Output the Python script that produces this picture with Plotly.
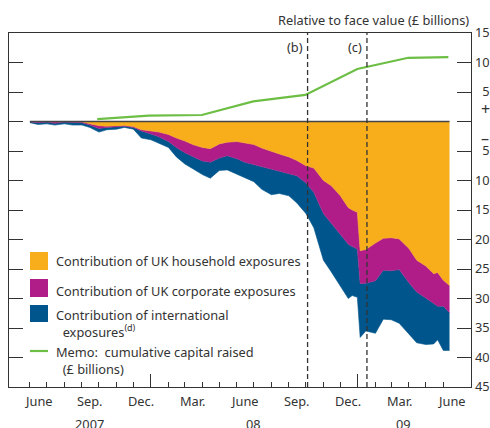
import pandas as pd
import plotly.graph_objects as go

# stacked contributions (GBP billions, relative to face value)
dates = [
    "2007-06-01", "2007-06-15", "2007-07-01", "2007-07-15", "2007-08-01", "2007-08-15",
    "2007-09-01", "2007-09-15", "2007-10-01", "2007-10-15", "2007-11-01", "2007-11-15",
    "2007-12-01", "2007-12-15", "2008-01-01", "2008-01-15", "2008-02-01", "2008-02-15",
    "2008-03-01", "2008-03-15", "2008-04-01", "2008-04-15", "2008-05-01", "2008-05-15",
    "2008-06-01", "2008-06-15", "2008-07-01", "2008-07-15", "2008-08-01", "2008-08-15",
    "2008-09-01", "2008-09-15", "2008-10-01", "2008-10-15", "2008-11-01", "2008-11-15",
    "2008-12-01", "2008-12-15", "2008-12-22", "2008-12-31", "2009-01-05", "2009-01-15",
    "2009-02-01", "2009-02-15", "2009-03-01", "2009-03-15", "2009-04-01", "2009-04-15",
    "2009-05-01", "2009-05-15", "2009-05-22", "2009-06-01", "2009-06-12",
]
household = [
    0, 0, 0, 0, 0, 0,
    -0.1, -0.4, -0.7, -0.8, -0.8, -0.7,
    -0.9, -1.4, -1.6, -1.8, -2.2, -2.8,
    -3.3, -3.9, -4.4, -4.6, -3.8, -3.5,
    -3.4, -3.6, -3.9, -4.5, -5.1, -5.5,
    -6.0, -6.6, -7.5, -7.9, -10.0, -10.9,
    -12.6, -14.6, -15.0, -15.4, -21.9, -21.7,
    -20.6, -19.8, -19.7, -19.9, -21.5, -23.5,
    -24.5, -25.8, -25.6, -26.9, -27.8,
]
corporate = [
    -0.1, -0.2, -0.1, -0.3, -0.1, -0.2,
    -0.1, -0.2, -0.5, -0.2, -0.1, -0.1,
    -0.1, -0.2, -0.5, -0.8, -1.2, -1.6,
    -2.0, -2.0, -2.3, -2.3, -2.4, -2.3,
    -2.9, -3.3, -3.4, -3.1, -2.9, -2.8,
    -2.8, -2.6, -2.9, -4.1, -5.6, -6.4,
    -6.6, -6.2, -6.2, -6.2, -5.6, -5.7,
    -6.4, -5.4, -5.6, -5.2, -5.8, -5.4,
    -5.4, -5.0, -5.7, -4.4, -4.6,
]
international = [
    -0.1, -0.3, -0.3, -0.3, -0.3, -0.4,
    -0.4, -0.4, -0.6, -0.4, -0.4, -0.2,
    -0.3, -1.2, -1.0, -1.1, -1.0, -1.6,
    -1.9, -2.1, -2.3, -2.7, -2.1, -2.4,
    -2.6, -2.7, -2.9, -3.9, -4.4, -3.9,
    -3.8, -4.6, -5.2, -6.0, -7.9, -8.2,
    -8.6, -9.2, -8.3, -8.2, -9.1, -8.1,
    -8.9, -8.3, -8.3, -9.1, -8.7, -8.6,
    -7.9, -6.9, -5.7, -7.5, -6.4,
]

# memo: cumulative capital raised (GBP billions)
memo_dates = ["2007-09-28", "2007-12-28", "2008-03-31", "2008-06-30",
              "2008-09-30", "2008-12-31", "2009-03-31", "2009-06-10"]
memo_values = [0.4, 1.0, 1.1, 3.4, 4.5, 8.9, 10.8, 10.9]

event_dates = ["2008-10-04", "2009-01-17"]
event_labels = ["(b)", "(c)"]

month_label_dates = ["2007-06-17", "2007-09-15", "2007-12-15", "2008-03-15", "2008-06-15",
                     "2008-09-15", "2008-12-15", "2009-03-15", "2009-06-17"]
month_labels = ["June", "Sep.", "Dec.", "Mar.", "June", "Sep.", "Dec.", "Mar.", "June"]
year_label_dates = ["2007-09-15", "2008-07-01", "2009-03-22"]
year_labels = ["2007", "08", "09"]

y_ticks = list(range(-45, 20, 5))
# figure-space pad keeps single digits right-aligned with the two-digit labels
y_ticktext = ["" if v == 0 else f"{abs(v):\u2007>2}" for v in y_ticks]

names = ["Contribution of UK household exposures",
         "Contribution of UK corporate exposures",
         "Contribution of international<br>  exposures<sup>(d)</sup>",
         "Memo:  cumulative capital raised<br>  (£ billions)"]
colors = ["#F8AE1B", "#B01C88", "#00568C", "#6DBE45"]

TEXT = "#333333"
FONT = "Noto Sans"
FS = 12.8
W, H = 490, 428
L, R, T, B = 9, 471, 33, 387


def px(x, y):
    """pixel -> paper coords"""
    return (x - L) / (R - L), (B - y) / (B - T)


def tfont(size=FS):
    return dict(size=size, color=TEXT, family=FONT)


fig = go.Figure()
for vals, name, col in zip([household, corporate, international], names[:3], colors[:3]):
    fig.add_trace(go.Scatter(
        x=dates, y=vals, name=name, stackgroup="exp", mode="lines",
        line=dict(width=0.6, color=col), fillcolor=col,
    ))

fig.add_trace(go.Scatter(
    x=[dates[0], dates[-1]], y=[0, 0], mode="lines",
    line=dict(color="#444444", width=1.3),
))
fig.add_trace(go.Scatter(
    x=memo_dates, y=memo_values, mode="lines",
    line=dict(color=colors[3], width=2.2),
))

# empty traces so the overlay axes get drawn
fig.add_trace(go.Scatter(x=[dates[0]], y=[None], xaxis="x2"))
fig.add_trace(go.Scatter(x=[dates[0]], y=[None], yaxis="y2"))

shapes = []
annos = []
for d, lab in zip(event_dates, event_labels):
    shapes.append(dict(type="line", x0=d, x1=d, y0=0, y1=1, xref="x", yref="paper",
                       line=dict(color="#333333", width=1.3, dash="5px,3px")))
    annos.append(dict(x=d, y=12.6, xref="x", yref="y", text=lab, showarrow=False,
                      xanchor="right", xshift=-3, font=tfont()))

for d, t in zip(month_label_dates, month_labels):
    annos.append(dict(x=d, y=-0.04, xref="x", yref="paper", text=t, showarrow=False,
                      yanchor="middle", font=tfont()))
for d, t in zip(year_label_dates, year_labels):
    annos.append(dict(x=d, y=-0.105, xref="x", yref="paper", text=t, showarrow=False,
                      yanchor="middle", font=tfont()))

tx, ty = px(R, 20)
annos.append(dict(x=tx, y=ty, xref="paper", yref="paper", text="Relative to face value (£ billions)",
                  showarrow=False, xanchor="right", yanchor="middle", font=tfont()))
sx, _ = px(479, 0)
annos.append(dict(x=sx, y=2.2, xref="paper", yref="y", text="+", showarrow=False,
                  xanchor="left", font=tfont(16)))
annos.append(dict(x=sx, y=-2.8, xref="paper", yref="y", text="\u2013", showarrow=False,
                  xanchor="left", font=tfont(16)))

# hand-built legend
legend_rows = [(252, 270), (279, 297), (305, 322)]
for (y0, y1), col in zip(legend_rows, colors[:3]):
    a0, b0 = px(30, y1)
    a1, b1 = px(48, y0)
    shapes.append(dict(type="rect", x0=a0, x1=a1, y0=b0, y1=b1, xref="paper", yref="paper",
                       line=dict(width=0), fillcolor=col))
a0, bl = px(30, 351)
a1, _ = px(48, 351)
shapes.append(dict(type="line", x0=a0, x1=a1, y0=bl, y1=bl, xref="paper", yref="paper",
                   line=dict(color=colors[3], width=2.2)))

legend_text_y = [261, 291, 304, 341]
for name, yy in zip(names, legend_text_y):
    lx, ly = px(54, yy)
    annos.append(dict(x=lx, y=ly, xref="paper", yref="paper", text=name, showarrow=False,
                      xanchor="left", yanchor="top" if "<br>" in name else "middle",
                      align="left", font=tfont()))

month_ticks = pd.date_range("2007-06-01", "2009-06-01", freq="MS")
x_range = ["2007-04-25", "2009-07-20"]

fig.update_layout(
    width=W, height=H,
    margin=dict(l=L, r=W - R, t=T, b=H - B, autoexpand=False),
    paper_bgcolor="white", plot_bgcolor="white",
    showlegend=False,
    hovermode=False,
    shapes=shapes,
    annotations=annos,
    font=dict(family=FONT, color=TEXT, size=FS),
    xaxis=dict(range=x_range, tickvals=month_ticks, showticklabels=False, automargin=False,
               ticks="inside", ticklen=5, tickcolor="#333333", tickwidth=1.3,
               showline=True, linecolor="#333333", linewidth=1.3, mirror=True,
               showgrid=False, zeroline=False),
    xaxis2=dict(range=x_range, overlaying="x", anchor="y", side="bottom", automargin=False,
                tickvals=["2008-01-01", "2009-01-01"], showticklabels=False,
                ticks="inside", ticklen=13, tickcolor="#333333", tickwidth=1.3,
                showline=False, showgrid=False, zeroline=False),
    yaxis=dict(range=[-45, 15], tickvals=y_ticks, showticklabels=False, automargin=False,
               ticks="inside", ticklen=14, tickcolor="#333333", tickwidth=1.3,
               showline=True, linecolor="#333333", linewidth=1.3, mirror=True,
               showgrid=False, zeroline=False),
    yaxis2=dict(range=[-45, 15], overlaying="y", side="right", anchor="x", automargin=False,
                tickvals=y_ticks, ticktext=y_ticktext, ticklabelstandoff=3,
                ticks="inside", ticklen=14, tickcolor="#333333", tickwidth=1.3,
                tickfont=tfont(),
                showline=False, showgrid=False, zeroline=False),
)

# drop the browser's default body margin so the figure sits at the page origin
fig.write_html("out.html", config={"displayModeBar": False},
               post_script="document.body.style.margin = '0';")
